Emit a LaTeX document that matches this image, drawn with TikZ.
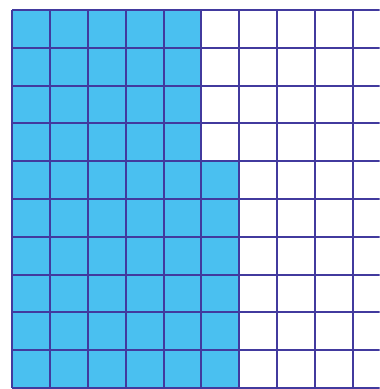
\documentclass[tikz,border=0pt]{standalone}
\definecolor{cellblue}{RGB}{74,192,240}
\definecolor{gridline}{RGB}{66,58,158}
\begin{document}
\begin{tikzpicture}[x=1cm, y=1cm]
    \useasboundingbox (-0.326,-0.026) rectangle (9.714,10.265);
    \clip (-0.326,-0.026) rectangle (9.714,10.265);

    % shaded part: 5 full columns and 6 cells of the sixth
    \fill[cellblue] (0,0) rectangle (5,10);
    \fill[cellblue] (5,0) rectangle (6,6);

    % grid
    \draw[gridline, line width=1.5pt] (0,0) grid (10.5,10);
\end{tikzpicture}
\end{document}
